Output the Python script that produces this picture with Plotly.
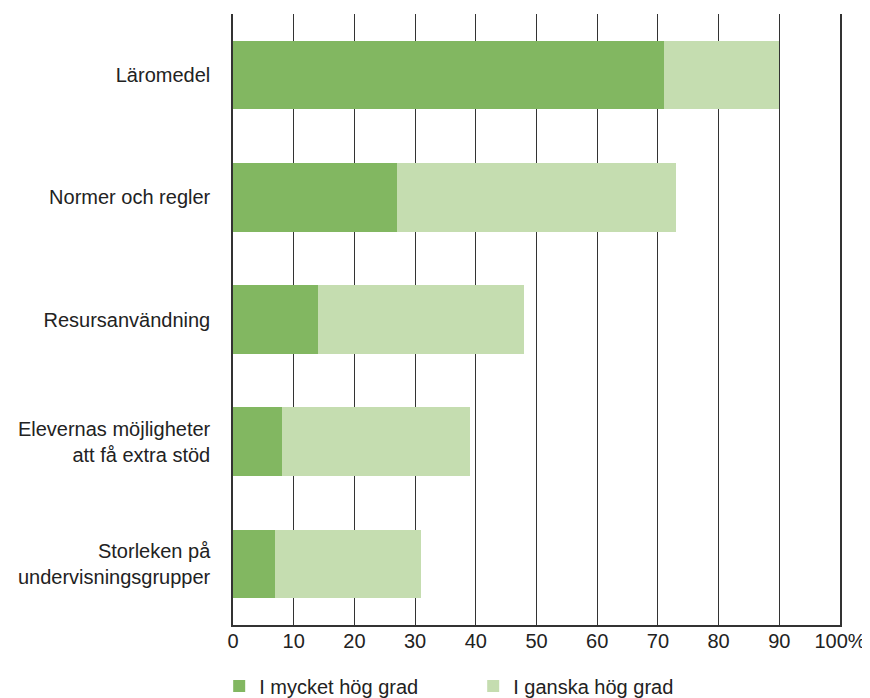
import plotly.graph_objects as go

categories = [
    "Läromedel",
    "Normer och regler",
    "Resursanvändning",
    "Elevernas möjligheter<br>att få extra stöd",
    "Storleken på<br>undervisningsgrupper",
]
mycket_hog = [71, 27, 14, 8, 7]
ganska_hog = [19, 46, 34, 31, 24]
tick_vals = [0, 10, 20, 30, 40, 50, 60, 70, 80, 90, 100]
tick_text = ["0", "10", "20", "30", "40", "50", "60", "70", "80", "90", "100%"]

_C = {"dark": "#82b761", "light": "#c5ddb0", "line": "#333333", "text": "#222222"}

fig = go.Figure()
fig.add_trace(
    go.Bar(
        name="I mycket hög grad",
        y=categories,
        x=mycket_hog,
        orientation="h",
        marker_color=_C["dark"],
        marker_line_width=0,
    )
)
fig.add_trace(
    go.Bar(
        name="I ganska hög grad",
        y=categories,
        x=ganska_hog,
        orientation="h",
        marker_color=_C["light"],
        marker_line_width=0,
    )
)

# page body adds an 8px margin, so the figure is a bit smaller than the window
fig.update_layout(
    barmode="stack",
    bargap=0.44,
    width=862,
    height=690,
    margin=dict(l=225, r=30, t=6, b=73, autoexpand=False),
    plot_bgcolor="white",
    paper_bgcolor="white",
    font=dict(family="Liberation Sans, Arial, sans-serif", size=20, color=_C["text"]),
    legend=dict(
        orientation="h",
        x=0.245,
        xanchor="left",
        xref="container",
        yref="container",
        y=0.0175,
        yanchor="middle",
        entrywidth=209,
        entrywidthmode="pixels",
        font=dict(size=20),
        traceorder="normal",
    ),
)
fig.update_xaxes(
    range=[0, 100],
    tickvals=tick_vals,
    ticktext=tick_text,
    showgrid=True,
    gridcolor=_C["line"],
    gridwidth=1,
    showline=True,
    linecolor=_C["line"],
    linewidth=1.5,
    zeroline=False,
    ticks="",
    ticklabelstandoff=-3,
    automargin=False,
)
fig.update_yaxes(
    autorange="reversed",
    showline=True,
    mirror=True,
    linecolor=_C["line"],
    linewidth=1.5,
    showgrid=False,
    ticks="",
    ticklabelstandoff=17,
    automargin=False,
)

fig.write_html("out.html")
